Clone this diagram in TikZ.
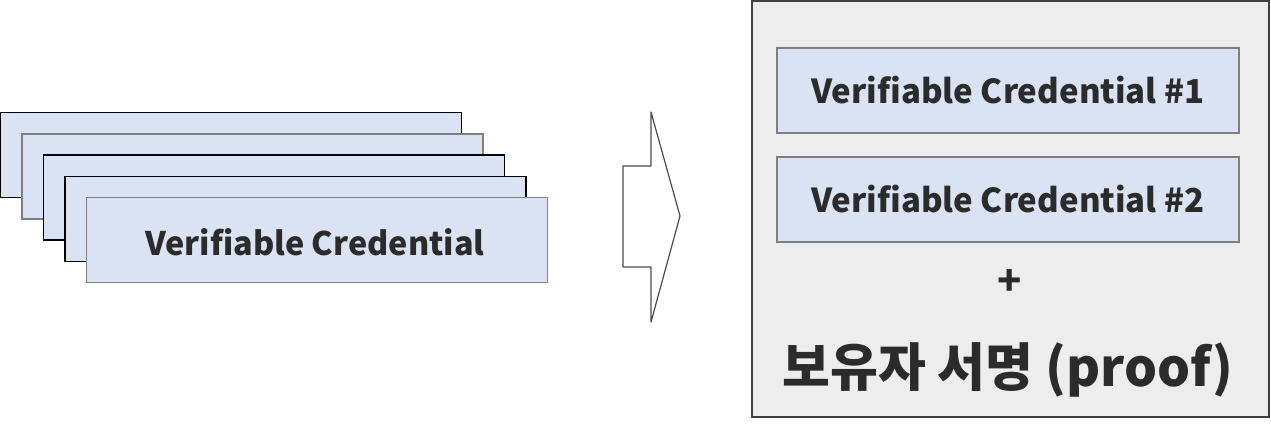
\documentclass[tikz,border=0pt]{standalone}
\usepackage{fontspec}
\setmainfont{Noto Sans CJK KR}
\usepackage{tikz}
\usetikzlibrary{positioning}
\definecolor{cardblue}{HTML}{DAE3F3}
\definecolor{panelgray}{HTML}{EDEDED}
\definecolor{inkgray}{HTML}{2B2B2B}
\definecolor{edgegray}{HTML}{7F7F7F}
\begin{document}
\begin{tikzpicture}[x=0.5pt, y=-0.5pt,
  every node/.style={text=inkgray, inner sep=0pt},
  card/.style={draw=#1, line width=0.7pt, fill=cardblue, minimum width=230.5pt, minimum height=42.5pt},
  vcbox/.style={draw=edgegray, line width=0.7pt, fill=cardblue, minimum width=231pt, minimum height=42.5pt,
    font=\fontsize{16.5}{20}\selectfont\bfseries}]
  \useasboundingbox (0,0) rectangle (1271,429);
  \foreach \i/\c in {0/black,1/edgegray,2/black,3/black,4/edgegray}
    \node[card=\c] (card\i) at (231+21.5*\i, 155+21.3*\i) {};
  \node[font=\fontsize{16.2}{20}\selectfont\bfseries] (vc) at (315,242) {Verifiable Credential};
  \draw[edgegray!60!black, line width=0.6pt, fill=white, line join=round]
    (623,166) -- (651,166) -- (651,112) -- (680,216) -- (651,322) -- (651,267) -- (623,267) -- cycle;
  \draw[draw=black!75, line width=0.8pt, fill=panelgray] (752,1) rectangle (1269,417);
  \node[vcbox] (vc1) at (1008,90.5) {Verifiable Credential \#1};
  \node[vcbox] (vc2) at (1008,199.5) {Verifiable Credential \#2};
  \node[font=\fontsize{20}{22}\selectfont\bfseries] (plus) at (1010,282) {+};
  \node[font=\fontsize{26}{30}\selectfont\bfseries] (proof) at (1008,370) {보유자 서명 (proof)};
\end{tikzpicture}
\end{document}
